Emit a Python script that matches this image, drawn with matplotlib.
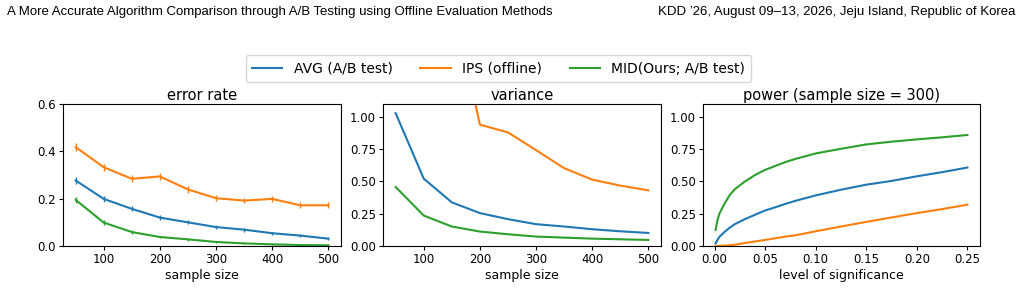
import matplotlib
matplotlib.use("Agg")
import matplotlib.pyplot as plt

# error rate vs sample size
sample_sizes = [50, 100, 150, 200, 250, 300, 350, 400, 450, 500]
err_avg = [0.277, 0.199, 0.157, 0.120, 0.100, 0.080, 0.069, 0.054, 0.044, 0.031]
err_ips = [0.418, 0.333, 0.284, 0.294, 0.239, 0.202, 0.192, 0.199, 0.172, 0.172]
err_mid = [0.195, 0.099, 0.059, 0.038, 0.028, 0.017, 0.011, 0.007, 0.004, 0.003]
err_avg_sd = [0.014, 0.012, 0.011, 0.010, 0.009, 0.008, 0.008, 0.007, 0.006, 0.005]
err_ips_sd = [0.016, 0.015, 0.014, 0.014, 0.013, 0.013, 0.012, 0.012, 0.012, 0.012]
err_mid_sd = [0.013, 0.009, 0.007, 0.006, 0.005, 0.004, 0.003, 0.003, 0.002, 0.002]

# variance vs sample size (IPS goes off the top for small n)
var_avg = [1.029, 0.522, 0.338, 0.255, 0.208, 0.169, 0.151, 0.130, 0.114, 0.101]
var_ips = [7.8, 3.9, 1.94, 0.940, 0.880, 0.743, 0.603, 0.514, 0.468, 0.431]
var_mid = [0.457, 0.236, 0.151, 0.112, 0.091, 0.073, 0.065, 0.057, 0.052, 0.047]

# power vs significance level (sample size = 300)
alphas = [0.001, 0.003, 0.005, 0.01, 0.015, 0.02, 0.03, 0.04, 0.05, 0.06, 0.07, 0.08,
          0.10, 0.125, 0.15, 0.175, 0.20, 0.225, 0.25]
pow_avg = [0.020, 0.050, 0.073, 0.110, 0.142, 0.169, 0.208, 0.242, 0.275, 0.300, 0.326, 0.350,
           0.392, 0.436, 0.475, 0.504, 0.540, 0.572, 0.608]
pow_ips = [0.000, 0.000, 0.001, 0.003, 0.006, 0.010, 0.023, 0.035, 0.047, 0.060, 0.073, 0.083,
           0.114, 0.151, 0.187, 0.221, 0.255, 0.286, 0.320]
pow_mid = [0.125, 0.205, 0.255, 0.330, 0.395, 0.440, 0.500, 0.550, 0.590, 0.620, 0.650, 0.675,
           0.717, 0.753, 0.787, 0.808, 0.826, 0.842, 0.860]

labels = ["AVG (A/B test)", "IPS (offline)", "MID(Ours; A/B test)"]
colors = ["#1f77b4", "#ff7f0e", "#2ca02c"]

fig = plt.figure(figsize=(10.22, 2.91), dpi=100)
W, H = 1022, 291
bottom = (H - 246) / H
height = 142 / H
ax1 = fig.add_axes([63 / W, bottom, 278 / W, height])
ax2 = fig.add_axes([383 / W, bottom, 278 / W, height])
ax3 = fig.add_axes([703 / W, bottom, 277 / W, height])

tick_fs = 8.5
label_fs = 9
title_fs = 10.5

# error rate
for ys, sd, c in zip([err_avg, err_ips, err_mid], [err_avg_sd, err_ips_sd, err_mid_sd], colors):
    ax1.errorbar(sample_sizes, ys, yerr=sd, color=c, lw=1.5, elinewidth=1.0)
ax1.set_ylim(0, 0.6)
ax1.set_yticks([0.0, 0.2, 0.4, 0.6])
ax1.set_xticks([100, 200, 300, 400, 500])
ax1.set_title("error rate", fontsize=title_fs, pad=3)
ax1.set_xlabel("sample size", fontsize=label_fs, labelpad=2)

# variance
lines = []
for ys, c, lab in zip([var_avg, var_ips, var_mid], colors, labels):
    ln, = ax2.plot(sample_sizes, ys, color=c, lw=1.5, label=lab)
    lines.append(ln)
ax2.set_xlim(27.5, 522.5)
ax2.set_ylim(0, 1.1)
ax2.set_yticks([0.0, 0.25, 0.5, 0.75, 1.0])
ax2.set_xticks([100, 200, 300, 400, 500])
ax2.set_title("variance", fontsize=title_fs, pad=3)
ax2.set_xlabel("sample size", fontsize=label_fs, labelpad=2)

# power
for ys, c in zip([pow_avg, pow_ips, pow_mid], colors):
    ax3.plot(alphas, ys, color=c, lw=1.5)
ax3.set_ylim(0, 1.1)
ax3.set_yticks([0.0, 0.25, 0.5, 0.75, 1.0])
ax3.set_xticks([0.0, 0.05, 0.1, 0.15, 0.2, 0.25])
ax3.set_title("power (sample size = 300)", fontsize=title_fs, pad=3)
ax3.set_xlabel("level of significance", fontsize=label_fs, labelpad=2)

for ax in (ax1, ax2, ax3):
    ax.tick_params(labelsize=tick_fs, length=3, pad=2)
ax1.yaxis.set_major_formatter(matplotlib.ticker.FormatStrFormatter("%.1f"))
ax2.yaxis.set_major_formatter(matplotlib.ticker.FormatStrFormatter("%.2f"))
ax3.yaxis.set_major_formatter(matplotlib.ticker.FormatStrFormatter("%.2f"))
ax3.xaxis.set_major_formatter(matplotlib.ticker.FormatStrFormatter("%.2f"))

fig.legend(lines, labels, loc="center", bbox_to_anchor=(498.5 / W, 1 - 68.5 / H),
           ncol=3, fontsize=10, handlelength=2.2, columnspacing=2.0, borderpad=0.45)

# page header
hdr_font = ["Liberation Sans", "DejaVu Sans"]
fig.text(7 / W, 1 - 12 / H,
         "A More Accurate Algorithm Comparison through A/B Testing using Offline Evaluation Methods",
         ha="left", va="center", fontsize=9.5, family=hdr_font)
fig.text(1015 / W, 1 - 12 / H,
         "KDD \u201926, August 09\u201313, 2026, Jeju Island, Republic of Korea",
         ha="right", va="center", fontsize=9.5, family=hdr_font)

fig.savefig("out.png", dpi=100)
